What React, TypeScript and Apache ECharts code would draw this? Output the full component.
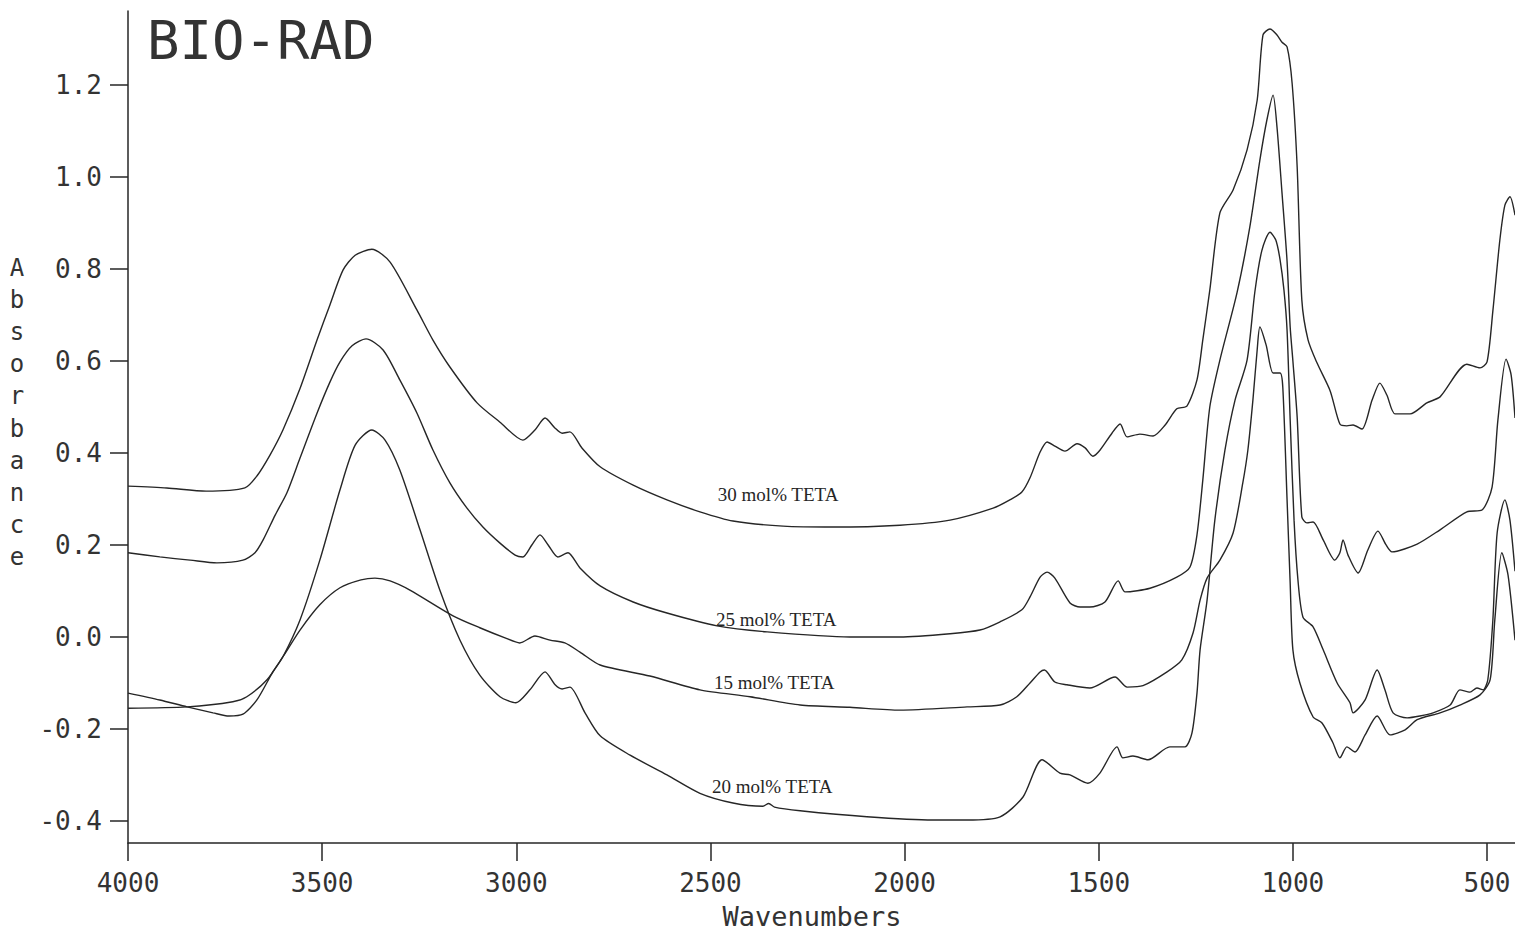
import React, { useEffect, useRef } from "react";
import * as echarts from "echarts";

// ---- Axis ticks ----
const xTicks = [4000, 3500, 3000, 2500, 2000, 1500, 1000, 500];
const yTicks = [-0.4, -0.2, 0.0, 0.2, 0.4, 0.6, 0.8, 1.0, 1.2];
const X_MIN = 428;
const X_MAX = 4000;
const Y_MIN = -0.448;
const Y_MAX = 1.361;

// ---- Series: [wavenumber (cm-1), absorbance] ----
const teta30: [number, number][] = [
  [4000, 0.328], [3900, 0.324], [3799, 0.317], [3699, 0.324], [3668, 0.35], [3634, 0.396], [3601, 0.45],
  [3557, 0.54], [3513, 0.646], [3480, 0.722], [3446, 0.798], [3415, 0.83], [3372, 0.843], [3325, 0.815],
  [3256, 0.711], [3215, 0.646], [3171, 0.587], [3101, 0.509], [3042, 0.467], [2983, 0.428], [2952, 0.45],
  [2926, 0.476], [2900, 0.454], [2882, 0.443], [2862, 0.446], [2831, 0.411], [2784, 0.37], [2699, 0.33],
  [2612, 0.298], [2527, 0.272], [2442, 0.252], [2313, 0.241], [2184, 0.239], [2012, 0.243], [1883, 0.254],
  [1772, 0.28], [1729, 0.298], [1698, 0.315], [1677, 0.346], [1651, 0.402], [1633, 0.424], [1613, 0.415],
  [1587, 0.404], [1556, 0.42], [1535, 0.411], [1515, 0.393], [1497, 0.406], [1466, 0.443], [1445, 0.463],
  [1427, 0.435], [1394, 0.441], [1360, 0.437], [1329, 0.461], [1299, 0.496], [1273, 0.502], [1247, 0.559],
  [1232, 0.646], [1214, 0.754], [1188, 0.922], [1154, 0.972], [1118, 1.059], [1092, 1.167], [1077, 1.309],
  [1059, 1.322], [1041, 1.309], [1028, 1.293], [1015, 1.283], [1002, 1.204], [989, 1.022], [977, 0.733],
  [961, 0.646], [938, 0.596], [904, 0.535], [879, 0.463], [861, 0.459], [845, 0.461], [822, 0.452],
  [796, 0.515], [776, 0.552], [758, 0.526], [737, 0.485], [698, 0.485], [655, 0.509], [621, 0.522],
  [552, 0.593], [518, 0.585], [500, 0.598], [485, 0.709], [467, 0.863], [454, 0.939], [441, 0.957], [428, 0.917],
];

const teta25: [number, number][] = [
  [4000, 0.183], [3918, 0.174], [3840, 0.167], [3771, 0.161], [3704, 0.167], [3673, 0.183], [3652, 0.211],
  [3621, 0.265], [3591, 0.313], [3557, 0.389], [3513, 0.487], [3480, 0.554], [3454, 0.598], [3423, 0.633],
  [3387, 0.648], [3343, 0.624], [3300, 0.559], [3256, 0.487], [3215, 0.407], [3171, 0.335], [3127, 0.28],
  [3086, 0.239], [3042, 0.204], [3003, 0.178], [2983, 0.174], [2960, 0.2], [2939, 0.222], [2918, 0.2],
  [2893, 0.174], [2867, 0.183], [2836, 0.15], [2784, 0.111], [2699, 0.076], [2612, 0.052], [2483, 0.024],
  [2354, 0.011], [2141, 0.0], [2012, 0.0], [1883, 0.007], [1806, 0.015], [1754, 0.033], [1698, 0.059],
  [1677, 0.087], [1651, 0.13], [1633, 0.141], [1613, 0.128], [1574, 0.074], [1548, 0.065], [1523, 0.065],
  [1484, 0.076], [1450, 0.122], [1432, 0.098], [1368, 0.106], [1299, 0.13], [1265, 0.152], [1247, 0.222],
  [1232, 0.341], [1214, 0.5], [1188, 0.602], [1144, 0.748], [1111, 0.891], [1085, 1.037], [1067, 1.124],
  [1051, 1.178], [1041, 1.109], [1028, 0.965], [1015, 0.817], [1007, 0.674], [1000, 0.6], [989, 0.478],
  [977, 0.261], [964, 0.248], [948, 0.25], [922, 0.211], [892, 0.167], [879, 0.183], [871, 0.211],
  [858, 0.178], [832, 0.139], [807, 0.189], [781, 0.23], [760, 0.2], [745, 0.185], [680, 0.202],
  [621, 0.233], [552, 0.272], [513, 0.276], [487, 0.326], [472, 0.472], [451, 0.604], [438, 0.57], [428, 0.476],
];

const teta20: [number, number][] = [
  [4000, -0.122], [3918, -0.137], [3848, -0.152], [3781, -0.165], [3740, -0.172], [3704, -0.168], [3668, -0.137],
  [3627, -0.076], [3601, -0.043], [3557, 0.037], [3506, 0.167], [3454, 0.32], [3415, 0.417], [3372, 0.45],
  [3338, 0.428], [3300, 0.363], [3248, 0.233], [3197, 0.102], [3145, -0.007], [3094, -0.083], [3042, -0.13],
  [3001, -0.143], [2965, -0.115], [2926, -0.076], [2900, -0.104], [2882, -0.113], [2862, -0.109], [2823, -0.165],
  [2784, -0.215], [2707, -0.257], [2612, -0.3], [2527, -0.34], [2442, -0.361], [2365, -0.368], [2350, -0.362],
  [2335, -0.37], [2269, -0.378], [2097, -0.391], [1927, -0.398], [1839, -0.398], [1754, -0.391], [1695, -0.348],
  [1646, -0.267], [1600, -0.296], [1574, -0.3], [1528, -0.318], [1497, -0.296], [1453, -0.239], [1438, -0.263],
  [1412, -0.259], [1373, -0.267], [1317, -0.239], [1278, -0.239], [1260, -0.209], [1247, -0.122], [1239, -0.028],
  [1221, 0.08], [1201, 0.254], [1175, 0.406], [1149, 0.515], [1118, 0.602], [1098, 0.75], [1080, 0.84],
  [1059, 0.88], [1044, 0.863], [1033, 0.82], [1023, 0.754], [1015, 0.667], [1007, 0.472], [997, 0.254],
  [987, 0.124], [974, 0.043], [948, 0.022], [922, -0.028], [886, -0.1], [853, -0.143], [845, -0.165],
  [814, -0.137], [783, -0.072], [763, -0.115], [742, -0.165], [706, -0.176], [673, -0.172], [639, -0.165],
  [595, -0.148], [570, -0.115], [544, -0.12], [526, -0.111], [510, -0.115], [498, -0.093], [485, 0.037],
  [474, 0.226], [454, 0.298], [441, 0.254], [428, 0.143],
];

const teta15: [number, number][] = [
  [4000, -0.155], [3848, -0.152], [3730, -0.141], [3694, -0.13], [3642, -0.093], [3601, -0.043], [3557, 0.015],
  [3506, 0.07], [3454, 0.107], [3400, 0.124], [3364, 0.128], [3325, 0.122], [3274, 0.102], [3163, 0.046],
  [3094, 0.02], [3029, -0.002], [2991, -0.013], [2952, 0.002], [2913, -0.007], [2875, -0.013], [2836, -0.033],
  [2784, -0.061], [2656, -0.085], [2527, -0.115], [2398, -0.13], [2269, -0.148], [2141, -0.153], [2012, -0.159],
  [1839, -0.152], [1754, -0.148], [1711, -0.13], [1677, -0.1], [1651, -0.076], [1640, -0.072], [1613, -0.098],
  [1582, -0.104], [1523, -0.111], [1458, -0.087], [1427, -0.109], [1386, -0.106], [1324, -0.076], [1286, -0.05],
  [1257, 0.009], [1239, 0.08], [1221, 0.128], [1188, 0.167], [1154, 0.226], [1129, 0.335], [1116, 0.406],
  [1103, 0.515], [1092, 0.624], [1085, 0.674], [1069, 0.635], [1051, 0.574], [1033, 0.574], [1026, 0.543],
  [1015, 0.298], [1007, 0.117], [1000, -0.028], [982, -0.1], [948, -0.174], [925, -0.187], [897, -0.23],
  [879, -0.263], [861, -0.239], [840, -0.25], [814, -0.213], [783, -0.172], [750, -0.213], [711, -0.202],
  [680, -0.18], [621, -0.165], [570, -0.148], [518, -0.126], [492, -0.093], [480, 0.037], [462, 0.183],
  [446, 0.135], [428, -0.007],
];

const seriesNames = ["30 mol% TETA", "25 mol% TETA", "15 mol% TETA", "20 mol% TETA"];
const seriesData = [teta30, teta25, teta15, teta20];
// label anchors (left edge, vertical centre) in data units
const labelAnchors: [number, number][] = [
  [2481, 0.309],
  [2486, 0.037],
  [2491, -0.1],
  [2496, -0.326],
];

const INK = "#262626";
const TEXT_INK = "#333333";
const MONO = '"DejaVu Sans Mono", monospace';

export default function App() {
  const ref = useRef<HTMLDivElement>(null);

  useEffect(() => {
    if (!ref.current) return;
    const chart = echarts.init(ref.current, null, { renderer: "svg" });

    const option: any = {
      animation: false,
      backgroundColor: "#ffffff",
      grid: { left: 128, right: 0, top: 11, bottom: 91, containLabel: false },
      xAxis: {
        type: "value",
        min: X_MIN,
        max: X_MAX,
        inverse: true,
        axisLine: { show: true, onZero: false, lineStyle: { color: INK, width: 1.5 } },
        axisTick: { show: true, length: 18, inside: false, customValues: xTicks, lineStyle: { color: INK, width: 1.5 } },
        axisLabel: {
          customValues: xTicks,
          formatter: (v: number) => String(v),
          fontFamily: MONO,
          fontSize: 26,
          color: TEXT_INK,
          margin: 27,
        },
        splitLine: { show: false },
      },
      yAxis: {
        type: "value",
        min: Y_MIN,
        max: Y_MAX,
        axisLine: { show: true, onZero: false, lineStyle: { color: INK, width: 1.5 } },
        axisTick: { show: true, length: 18, inside: false, customValues: yTicks, lineStyle: { color: INK, width: 1.5 } },
        axisLabel: {
          customValues: yTicks,
          formatter: (v: number) => (Math.abs(v) < 1e-9 ? "0.0" : v.toFixed(1)),
          fontFamily: MONO,
          fontSize: 26,
          color: TEXT_INK,
          margin: 26,
        },
        splitLine: { show: false },
      },
      series: seriesData.map((d, i) => ({
        name: seriesNames[i],
        type: "line",
        data: d,
        showSymbol: false,
        symbol: "none",
        smooth: 0.25,
        silent: true,
        lineStyle: { color: INK, width: 1.4 },
      })),
    };
    chart.setOption(option);

    const letters = "Absorbance".split("");
    const graphics: any[] = [
      {
        type: "text",
        x: 147,
        y: 40,
        style: { text: "BIO-RAD", font: `54px ${MONO}`, fill: TEXT_INK, textAlign: "left", textVerticalAlign: "middle" },
      },
      {
        type: "text",
        x: 812,
        y: 916,
        style: { text: "Wavenumbers", font: `27px ${MONO}`, fill: TEXT_INK, textAlign: "center", textVerticalAlign: "middle" },
      },
      ...letters.map((ch, i) => ({
        type: "text",
        x: 17,
        y: 268 + i * 32.1,
        style: { text: ch, font: `24px ${MONO}`, fill: TEXT_INK, textAlign: "center", textVerticalAlign: "middle" },
      })),
      ...labelAnchors.map((a, i) => {
        const p = chart.convertToPixel({ gridIndex: 0 }, a) as number[];
        return {
          type: "text",
          x: p[0],
          y: p[1],
          style: {
            text: seriesNames[i],
            font: '19px "Liberation Serif", serif',
            fill: INK,
            textAlign: "left",
            textVerticalAlign: "middle",
          },
        };
      }),
    ];
    chart.setOption({ graphic: graphics });

    return () => chart.dispose();
  }, []);

  return (
    <div
      ref={ref}
      style={{ position: "fixed", left: 0, top: 0, width: 1515, height: 934, background: "#fff" }}
    />
  );
}
